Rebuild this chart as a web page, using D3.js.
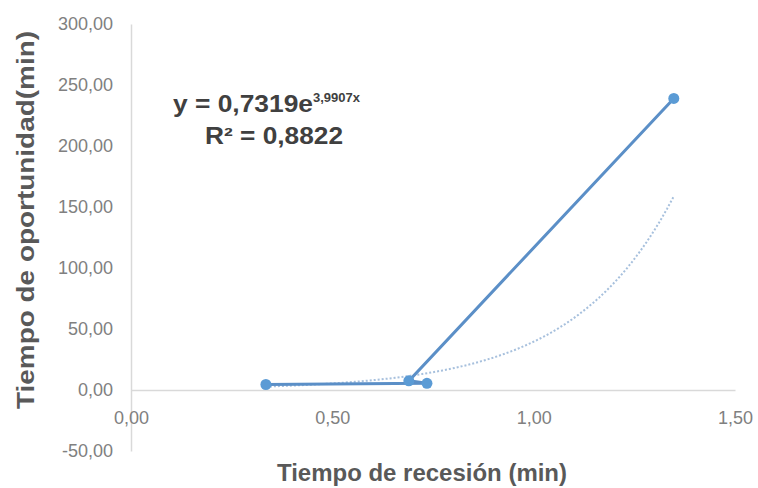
<html lang="es">
<head>
<meta charset="utf-8">
<title>Tiempo de oportunidad vs recesión</title>
<script src="https://d3js.org/d3.v7.min.js"></script>
<style>
  body { margin: 0; background: #fff; }
  text { font-family: "Liberation Sans", Arial, sans-serif; }
</style>
</head>
<body>
<script>
// data (in the order the series was plotted)
var recesion = [0.335, 0.735, 0.69, 1.348];
var oportunidad = [4.5, 5.5, 7.5, 239];
var xTicks = [0, 0.5, 1.0, 1.5];
var yTicks = [-50, 0, 50, 100, 150, 200, 250, 300];
// trendline shown in the chart: y = a * e^(b x)
var trendA = 0.7319, trendB = 3.9907;

var w = 758, h = 488;

var xScale = d3.scaleLinear().domain([0, 1.5]).range([131, 735]);
var yScale = d3.scaleLinear().domain([-50, 300]).range([451, 24]);

var es = d3.formatLocale({ decimal: ",", thousands: ".", grouping: [3], currency: ["", "€"], minus: "-" });
var fmt = es.format(".2f");

var svg = d3.select("body").append("svg")
  .attr("width", w)
  .attr("height", h);

// Y axis
var yAxis = d3.axisLeft(yScale).tickValues(yTicks).tickFormat(fmt).tickSize(0).tickPadding(18);
var gy = svg.append("g")
  .attr("transform", "translate(" + xScale(0) + ",0)")
  .call(yAxis);
gy.select(".domain").attr("stroke", "#d9d9d9").attr("stroke-width", 1.5);
gy.selectAll("text").attr("fill", "#808080").attr("font-size", "18px");

// X axis
var xAxis = d3.axisBottom(xScale).tickValues(xTicks).tickFormat(fmt).tickSize(0).tickPadding(21);
var gx = svg.append("g")
  .attr("transform", "translate(0," + yScale(0) + ")")
  .call(xAxis);
gx.select(".domain").attr("stroke", "#d9d9d9").attr("stroke-width", 1.5);
gx.selectAll("text").attr("fill", "#808080").attr("font-size", "18px");

// trendline
var x0 = d3.min(recesion), x1 = d3.max(recesion);
var trend = d3.range(0, 61).map(function(i) {
  var x = x0 + (x1 - x0) * i / 60;
  return [x, trendA * Math.exp(trendB * x)];
});
svg.append("path")
  .datum(trend)
  .attr("fill", "none")
  .attr("stroke", "#a7c0dd")
  .attr("stroke-width", 2)
  .attr("stroke-dasharray", "2,2")
  .attr("d", d3.line()
    .x(function(d) { return xScale(d[0]); })
    .y(function(d) { return yScale(d[1]); }));

// series line
var pts = recesion.map(function(d, i) { return [d, oportunidad[i]]; });
svg.append("path")
  .datum(pts)
  .attr("fill", "none")
  .attr("stroke", "#5b8fc7")
  .attr("stroke-width", 3)
  .attr("d", d3.line()
    .x(function(d) { return xScale(d[0]); })
    .y(function(d) { return yScale(d[1]); }));

svg.selectAll("circle.pt")
  .data(pts)
  .enter()
  .append("circle")
  .attr("class", "pt")
  .attr("cx", function(d) { return xScale(d[0]); })
  .attr("cy", function(d) { return yScale(d[1]); })
  .attr("r", 5.5)
  .attr("fill", "#5b9bd5");

// equation label
var eq = svg.append("text")
  .attr("x", 173)
  .attr("y", 112)
  .attr("fill", "#404040")
  .attr("font-size", "23px")
  .attr("font-weight", "bold");
eq.append("tspan").attr("textLength", 140).attr("lengthAdjust", "spacingAndGlyphs").text("y = 0,7319e");
eq.append("tspan").attr("dy", -10).attr("font-size", "13px").text("3,9907x");

svg.append("text")
  .attr("x", 205)
  .attr("y", 144)
  .attr("fill", "#404040")
  .attr("font-size", "23px")
  .attr("font-weight", "bold")
  .attr("textLength", 138)
  .attr("lengthAdjust", "spacingAndGlyphs")
  .text("R² = 0,8822");

// axis titles
svg.append("text")
  .attr("x", 422)
  .attr("y", 481)
  .attr("text-anchor", "middle")
  .attr("fill", "#595959")
  .attr("font-size", "23px")
  .attr("font-weight", "bold")
  .attr("textLength", 290)
  .attr("lengthAdjust", "spacingAndGlyphs")
  .text("Tiempo de recesión (min)");

svg.append("text")
  .attr("transform", "translate(34,220) rotate(-90)")
  .attr("text-anchor", "middle")
  .attr("fill", "#595959")
  .attr("font-size", "24px")
  .attr("font-weight", "bold")
  .attr("textLength", 378)
  .attr("lengthAdjust", "spacingAndGlyphs")
  .text("Tiempo de oportunidad(min)");
</script>
</body>
</html>
